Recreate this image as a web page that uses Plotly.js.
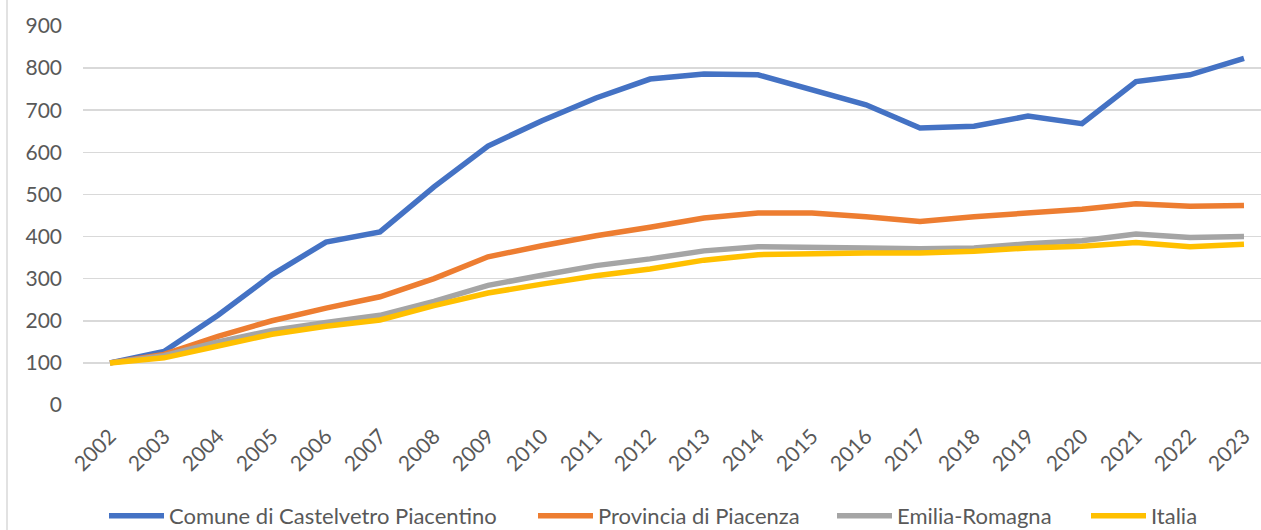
<!DOCTYPE html>
<html>
<head>
<meta charset="utf-8">
<script src="https://cdn.plot.ly/plotly-3.0.1.min.js"></script>
<style>html,body{margin:0;padding:0;background:#fff;}#chart{width:1261px;height:530px;}</style>
</head>
<body>
<div id="chart"></div>
<script>
const years = ["2002","2003","2004","2005","2006","2007","2008","2009","2010","2011","2012","2013","2014","2015","2016","2017","2018","2019","2020","2021","2022","2023"];
const comune = [100,127,213,309,387,411,518,615,675,729,774,786,784,749,713,658,662,686,668,768,784,823];
const provincia = [100,120,163,200,230,257,300,352,378,402,422,444,456,456,447,436,447,456,465,478,472,474];
const emilia = [100,117,150,177,196,213,246,284,308,331,347,366,376,376,373,371,373,383,390,406,398,400];
const italia = [100,112,140,168,187,202,236,266,287,307,323,344,357,360,361,361,365,373,377,386,376,382];
const seriesNames = ["Comune di Castelvetro Piacentino","Provincia di Piacenza","Emilia-Romagna","Italia"];
const seriesColors = ["#4472C4","#ED7D31","#A5A5A5","#FFC000"];
const seriesData = [comune, provincia, emilia, italia];

const font = "Lato, 'Open Sans', sans-serif";
const legendIds = ["legend","legend2","legend3","legend4"];
const traces = seriesData.map((vals, i) => ({
  type: "scatter", mode: "lines", x: years, y: vals, name: seriesNames[i],
  legend: legendIds[i],
  line: {color: seriesColors[i], width: 5.5}, cliponaxis: false
}));

const plotL = 83, plotW = 1178;
const legendLeftPx = [104, 533, 832, 1086];
const layout = {
  width: 1261, height: 530,
  margin: {l: plotL, r: 0, t: 26, b: 125, autoexpand: false},
  paper_bgcolor: "#fff", plot_bgcolor: "#fff",
  showlegend: true,
  font: {family: font, color: "#595959"},
  xaxis: {
    type: "category", range: [-0.5, 21.315], tickangle: -45, automargin: false,
    showgrid: false, zeroline: false, showline: false, ticks: "", ticklabelstandoff: 14,
    tickfont: {size: 21, color: "#595959", family: font}
  },
  yaxis: {
    range: [0, 900], dtick: 100, tick0: 0, automargin: false,
    showgrid: true, gridcolor: "#D9D9D9", gridwidth: 1.5,
    zeroline: false, showline: false, ticks: "", ticklabelstandoff: 20,
    tickfont: {size: 21, color: "#595959", family: font}
  },
  shapes: [{type: "line", xref: "paper", yref: "paper", x0: (7-plotL)/plotW, x1: (7-plotL)/plotW, y0: -125/379, y1: 26/379+1, line: {color: "#D9D9D9", width: 1.5}}]
};
legendIds.forEach((id, i) => {
  layout[id] = {
    orientation: "h", x: (legendLeftPx[i]-plotL)/plotW, xanchor: "left",
    y: -(516-405)/379, yanchor: "middle",
    itemwidth: 55, bgcolor: "rgba(0,0,0,0)",
    font: {size: 22, color: "#595959", family: font}
  };
});
Plotly.newPlot("chart", traces, layout, {displayModeBar: false, staticPlot: true});
</script>
</body>
</html>
